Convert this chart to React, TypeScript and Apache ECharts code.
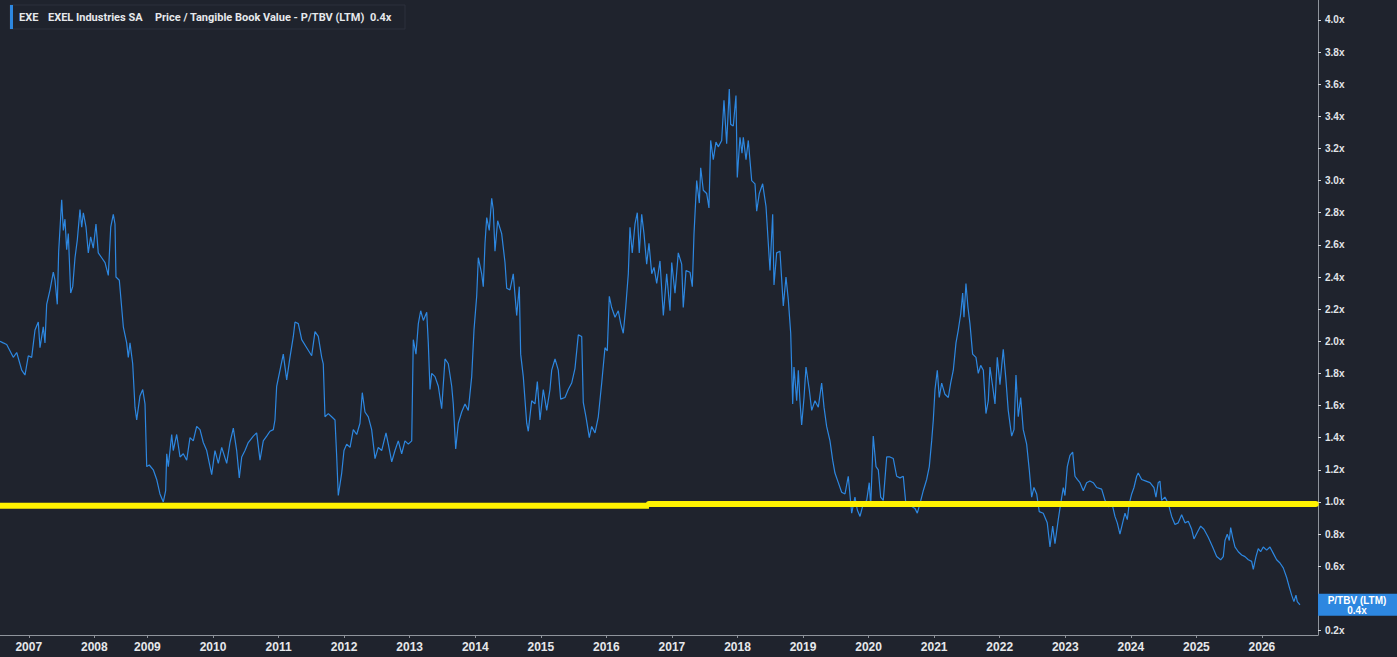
import React, { useEffect, useRef } from "react";
import * as echarts from "echarts";

// P/TBV (LTM) readings, [fractional year, multiple]
const ptbv2006to2011: [number, number][] = [
  [2006.751, 2.0], [2006.801, 1.99], [2006.853, 1.98], [2006.954, 1.9], [2007.006, 1.93], [2007.082, 1.82],
  [2007.132, 1.79], [2007.183, 1.91], [2007.234, 1.9], [2007.285, 2.07], [2007.335, 2.12], [2007.361, 1.96],
  [2007.411, 2.09], [2007.437, 1.99], [2007.463, 2.23], [2007.514, 2.32], [2007.564, 2.43], [2007.59, 2.38],
  [2007.625, 2.23], [2007.646, 2.56], [2007.692, 2.88], [2007.717, 2.69], [2007.742, 2.76], [2007.768, 2.57],
  [2007.793, 2.67], [2007.829, 2.3], [2007.86, 2.34], [2007.895, 2.52], [2007.93, 2.63], [2007.971, 2.82],
  [2007.997, 2.71], [2008.022, 2.8], [2008.063, 2.71], [2008.098, 2.55], [2008.134, 2.65], [2008.174, 2.58],
  [2008.215, 2.73], [2008.25, 2.55], [2008.302, 2.52], [2008.353, 2.49], [2008.403, 2.41], [2008.44, 2.71],
  [2008.479, 2.79], [2008.505, 2.73], [2008.52, 2.4], [2008.571, 2.38], [2008.632, 2.09], [2008.683, 1.99],
  [2008.708, 1.9], [2008.734, 1.99], [2008.775, 1.86], [2008.81, 1.59], [2008.836, 1.51], [2008.886, 1.66],
  [2008.928, 1.7], [2008.963, 1.61], [2008.989, 1.22], [2009.028, 1.23], [2009.089, 1.2], [2009.141, 1.14],
  [2009.191, 1.05], [2009.242, 1.0], [2009.278, 1.07], [2009.294, 1.3], [2009.318, 1.22], [2009.37, 1.42],
  [2009.394, 1.32], [2009.446, 1.42], [2009.497, 1.28], [2009.547, 1.3], [2009.599, 1.26], [2009.649, 1.4],
  [2009.699, 1.38], [2009.751, 1.47], [2009.802, 1.45], [2009.852, 1.37], [2009.904, 1.32], [2009.98, 1.17],
  [2010.03, 1.32], [2010.081, 1.24], [2010.133, 1.34], [2010.209, 1.24], [2010.259, 1.37], [2010.31, 1.46],
  [2010.361, 1.32], [2010.401, 1.15], [2010.438, 1.28], [2010.488, 1.32], [2010.538, 1.37], [2010.615, 1.41],
  [2010.666, 1.43], [2010.717, 1.26], [2010.767, 1.38], [2010.819, 1.41], [2010.869, 1.44], [2010.92, 1.45],
  [2010.945, 1.51], [2010.971, 1.72], [2011.022, 1.82], [2011.072, 1.92], [2011.124, 1.76], [2011.174, 1.9],
  [2011.225, 2.03], [2011.251, 2.12], [2011.301, 2.11], [2011.353, 2.01], [2011.429, 1.96], [2011.505, 1.91],
  [2011.556, 2.06], [2011.606, 2.03], [2011.658, 1.9], [2011.682, 1.86], [2011.708, 1.53], [2011.759, 1.55],
  [2011.81, 1.53], [2011.861, 1.51], [2011.887, 1.28], [2011.911, 1.04],
];

const ptbv2012to2016: [number, number][] = [
  [2011.963, 1.18], [2011.998, 1.32], [2012.039, 1.36], [2012.09, 1.34], [2012.14, 1.45], [2012.192, 1.42],
  [2012.242, 1.49], [2012.277, 1.68], [2012.318, 1.56], [2012.369, 1.53], [2012.42, 1.45], [2012.471, 1.27],
  [2012.521, 1.34], [2012.573, 1.32], [2012.639, 1.43], [2012.674, 1.36], [2012.726, 1.25], [2012.776, 1.32],
  [2012.826, 1.38], [2012.878, 1.3], [2012.928, 1.38], [2012.979, 1.36], [2013.031, 1.38], [2013.055, 2.01],
  [2013.096, 1.92], [2013.132, 2.11], [2013.168, 2.19], [2013.208, 2.13], [2013.26, 2.18], [2013.284, 1.99],
  [2013.31, 1.7], [2013.336, 1.8], [2013.386, 1.78], [2013.437, 1.72], [2013.488, 1.58], [2013.539, 1.89],
  [2013.589, 1.86], [2013.641, 1.72], [2013.665, 1.61], [2013.702, 1.33], [2013.742, 1.49], [2013.793, 1.56],
  [2013.844, 1.61], [2013.894, 1.57], [2013.946, 1.78], [2013.981, 2.07], [2014.022, 2.28], [2014.047, 2.52],
  [2014.098, 2.42], [2014.123, 2.34], [2014.149, 2.61], [2014.175, 2.77], [2014.214, 2.69], [2014.251, 2.89],
  [2014.275, 2.82], [2014.301, 2.56], [2014.342, 2.75], [2014.403, 2.67], [2014.454, 2.49], [2014.48, 2.33],
  [2014.53, 2.32], [2014.58, 2.42], [2014.632, 2.16], [2014.672, 2.34], [2014.693, 1.92], [2014.733, 1.78],
  [2014.785, 1.49], [2014.809, 1.44], [2014.861, 1.63], [2014.911, 1.61], [2014.947, 1.75], [2014.988, 1.51],
  [2015.038, 1.7], [2015.09, 1.57], [2015.14, 1.7], [2015.166, 1.82], [2015.217, 1.89], [2015.267, 1.82],
  [2015.303, 1.64], [2015.369, 1.65], [2015.419, 1.7], [2015.471, 1.74], [2015.521, 1.83], [2015.572, 2.04],
  [2015.624, 2.03], [2015.648, 1.62], [2015.689, 1.53], [2015.74, 1.4], [2015.776, 1.47], [2015.827, 1.43],
  [2015.877, 1.53], [2015.929, 1.74], [2015.979, 1.96], [2016.014, 1.94], [2016.045, 2.28], [2016.081, 2.21],
  [2016.132, 2.15], [2016.182, 2.19], [2016.219, 2.11], [2016.258, 2.05], [2016.295, 2.21], [2016.335, 2.42],
  [2016.36, 2.71], [2016.395, 2.55], [2016.437, 2.73], [2016.472, 2.8], [2016.502, 2.55], [2016.539, 2.79],
  [2016.574, 2.67], [2016.615, 2.48], [2016.65, 2.61], [2016.692, 2.42], [2016.727, 2.46], [2016.768, 2.36],
  [2016.818, 2.5],
];

const ptbv2017to2021: [number, number][] = [
  [2016.869, 2.16], [2016.92, 2.42], [2016.971, 2.19], [2016.997, 2.49], [2017.047, 2.3], [2017.097, 2.55],
  [2017.149, 2.48], [2017.173, 2.21], [2017.215, 2.44], [2017.276, 2.43], [2017.311, 2.34], [2017.337, 2.67],
  [2017.378, 3.0], [2017.418, 2.86], [2017.439, 3.08], [2017.479, 2.94], [2017.53, 2.92], [2017.565, 2.83],
  [2017.591, 3.25], [2017.631, 3.13], [2017.672, 3.24], [2017.707, 3.21], [2017.759, 3.25], [2017.794, 3.5],
  [2017.835, 3.23], [2017.875, 3.57], [2017.896, 3.35], [2017.936, 3.34], [2017.977, 3.53], [2017.997, 3.02],
  [2018.038, 3.27], [2018.069, 3.17], [2018.089, 3.27], [2018.13, 3.13], [2018.165, 3.25], [2018.217, 3.0],
  [2018.267, 2.98], [2018.293, 2.81], [2018.333, 2.92], [2018.384, 2.98], [2018.435, 2.84], [2018.47, 2.61],
  [2018.496, 2.44], [2018.537, 2.79], [2018.557, 2.35], [2018.598, 2.55], [2018.648, 2.56], [2018.699, 2.22],
  [2018.74, 2.4], [2018.775, 2.26], [2018.812, 2.05], [2018.842, 1.61], [2018.862, 1.84], [2018.903, 1.63],
  [2018.928, 1.82], [2018.953, 1.63], [2018.979, 1.48], [2019.015, 1.65], [2019.045, 1.84], [2019.095, 1.7],
  [2019.132, 1.57], [2019.182, 1.63], [2019.233, 1.59], [2019.284, 1.74], [2019.32, 1.59], [2019.36, 1.47],
  [2019.411, 1.38], [2019.452, 1.26], [2019.487, 1.18], [2019.538, 1.12], [2019.589, 1.06], [2019.64, 1.05],
  [2019.69, 1.16], [2019.742, 0.93], [2019.792, 1.03], [2019.828, 0.95], [2019.869, 0.91], [2019.919, 0.99],
  [2019.971, 1.01], [2020.01, 1.12], [2020.032, 0.97], [2020.071, 1.41], [2020.113, 1.22], [2020.148, 1.2],
  [2020.184, 1.03], [2020.224, 1.01], [2020.276, 1.28], [2020.326, 1.28], [2020.377, 1.27], [2020.428, 1.16],
  [2020.479, 1.15], [2020.529, 1.16], [2020.57, 0.98], [2020.631, 0.98], [2020.707, 0.96], [2020.743, 0.93],
  [2020.784, 0.99], [2020.834, 1.07], [2020.886, 1.14], [2020.926, 1.22], [2020.962, 1.38], [2020.987, 1.51],
  [2021.013, 1.7], [2021.048, 1.82], [2021.078, 1.65], [2021.115, 1.74], [2021.165, 1.67], [2021.216, 1.65],
  [2021.252, 1.74], [2021.292, 1.82], [2021.333, 1.99], [2021.368, 2.07], [2021.405, 2.17], [2021.435, 2.3],
  [2021.455, 2.15], [2021.485, 2.36], [2021.516, 2.21], [2021.546, 2.11], [2021.587, 1.92], [2021.638, 1.9],
  [2021.673, 1.8], [2021.71, 1.85], [2021.75, 1.82], [2021.79, 1.55], [2021.826, 1.63], [2021.851, 1.84],
  [2021.892, 1.72], [2021.928, 1.61], [2021.963, 1.9], [2022.004, 1.73],
];

const ptbv2022to2026: [number, number][] = [
  [2022.054, 1.95], [2022.095, 1.76], [2022.13, 1.57], [2022.182, 1.41], [2022.218, 1.45], [2022.248, 1.79],
  [2022.283, 1.53], [2022.32, 1.65], [2022.359, 1.45], [2022.411, 1.36], [2022.451, 1.2], [2022.487, 1.03],
  [2022.522, 1.09], [2022.564, 1.05], [2022.603, 0.94], [2022.664, 0.93], [2022.725, 0.87], [2022.767, 0.72],
  [2022.808, 0.85], [2022.843, 0.74], [2022.893, 0.89], [2022.93, 0.99], [2022.97, 1.09], [2022.995, 1.04],
  [2023.031, 1.22], [2023.072, 1.29], [2023.113, 1.31], [2023.148, 1.16], [2023.183, 1.14], [2023.224, 1.12],
  [2023.275, 1.07], [2023.326, 1.12], [2023.376, 1.13], [2023.427, 1.12], [2023.479, 1.09], [2023.555, 1.08],
  [2023.606, 1.01], [2023.656, 0.97], [2023.708, 1.0], [2023.758, 0.91], [2023.793, 0.87], [2023.834, 0.8],
  [2023.875, 0.87], [2023.911, 0.93], [2023.946, 0.89], [2023.976, 0.99], [2024.013, 1.05], [2024.048, 1.09],
  [2024.089, 1.16], [2024.113, 1.18], [2024.165, 1.14], [2024.231, 1.13], [2024.292, 1.12], [2024.352, 1.09],
  [2024.383, 1.03], [2024.418, 1.12], [2024.444, 1.13], [2024.47, 1.01], [2024.52, 1.03], [2024.571, 0.99],
  [2024.623, 0.91], [2024.673, 0.86], [2024.723, 0.87], [2024.775, 0.92], [2024.826, 0.87], [2024.876, 0.88],
  [2024.928, 0.83], [2024.963, 0.77], [2025.013, 0.81], [2025.065, 0.85], [2025.115, 0.83], [2025.181, 0.78],
  [2025.248, 0.72], [2025.309, 0.66], [2025.37, 0.64], [2025.41, 0.66], [2025.436, 0.76], [2025.471, 0.8],
  [2025.502, 0.76], [2025.523, 0.84], [2025.553, 0.78], [2025.588, 0.72], [2025.639, 0.69], [2025.691, 0.67],
  [2025.741, 0.66], [2025.792, 0.64], [2025.843, 0.63], [2025.868, 0.58], [2025.909, 0.66], [2025.944, 0.71],
  [2025.98, 0.69], [2026.02, 0.72], [2026.072, 0.7], [2026.122, 0.72], [2026.173, 0.68], [2026.224, 0.64],
  [2026.275, 0.62], [2026.325, 0.59], [2026.377, 0.53], [2026.417, 0.47], [2026.453, 0.42], [2026.488, 0.38],
  [2026.519, 0.42], [2026.539, 0.38], [2026.58, 0.36],
];

// Yellow reference line (drawn by hand on the original, two segments)
const referenceLineLeft: [number, number][] = [[2006.751, 0.977], [2016.65, 0.977]];
const referenceLineRight: [number, number][] = [[2016.65, 0.987], [2026.82, 0.987]];

const yTickValues = [0.2, 0.4, 0.6, 0.8, 1.0, 1.2, 1.4, 1.6, 1.8, 2.0, 2.2, 2.4, 2.6, 2.8, 3.0, 3.2, 3.4, 3.6, 3.8, 4.0];
// 0.4x is hidden behind the last-value badge in the original
const yLabelValues = [0.2, 0.6, 0.8, 1.0, 1.2, 1.4, 1.6, 1.8, 2.0, 2.2, 2.4, 2.6, 2.8, 3.0, 3.2, 3.4, 3.6, 3.8, 4.0];
const xTickYears = [2007.19, 2008.19, 2009, 2010, 2011, 2012, 2013, 2014, 2015, 2016, 2017, 2018, 2019, 2020, 2021, 2022, 2023, 2024, 2025, 2026];

const tickerCode = "EXE";
const companyName = "EXEL Industries SA";
const metricName = "Price / Tangible Book Value - P/TBV (LTM)";
const metricShort = "P/TBV (LTM)";

const BG = "#1f232d";
const BLUE = "#2d87e0";
const FONT = "'Liberation Sans', Arial, sans-serif";
const LEGEND_FONT = "Roboto, 'Liberation Sans', Arial, sans-serif";

export default function App() {
  const ref = useRef<HTMLDivElement>(null);

  useEffect(() => {
    if (!ref.current) return;
    const chart = echarts.init(ref.current, null, { renderer: "svg" });
    const series = [...ptbv2006to2011, ...ptbv2012to2016, ...ptbv2017to2021, ...ptbv2022to2026];
    const last = series[series.length - 1][1];
    const lastLabel = last.toFixed(1) + "x";

    chart.setOption({
      animation: false,
      backgroundColor: BG,
      grid: { left: 0, right: 79, top: 0, bottom: 22, outerBoundsMode: "none", containLabel: false },
      xAxis: {
        type: "value",
        min: 2006.751,
        max: 2026.855,
        axisLine: { show: true, onZero: false, lineStyle: { color: "#8f949c", width: 1 } },
        axisTick: { show: true, length: 3, customValues: xTickYears, lineStyle: { color: "#8f949c" } },
        axisLabel: {
          customValues: xTickYears,
          formatter: (v: number) => String(Math.floor(v + 0.01)),
          color: "#e6e8eb",
          fontSize: 12,
          fontWeight: "bold",
          fontFamily: FONT,
          margin: 6,
        },
        splitLine: { show: false },
      },
      yAxis: {
        type: "value",
        position: "right",
        min: 0.172,
        max: 4.124,
        axisLine: { show: true, lineStyle: { color: "#8f949c", width: 1 } },
        axisTick: { show: true, length: 3, customValues: yTickValues, lineStyle: { color: "#d5d8dd" } },
        axisLabel: {
          customValues: yLabelValues,
          formatter: (v: number) => v.toFixed(1) + "x",
          color: "#e1e4e8",
          fontSize: 10,
          fontWeight: "bold",
          fontFamily: FONT,
          margin: 7,
        },
        splitLine: { show: false },
      },
      series: [
        {
          type: "line",
          data: series,
          showSymbol: false,
          symbol: "none",
          lineStyle: { color: BLUE, width: 1.2 },
          z: 2,
        },
        {
          type: "line",
          data: referenceLineLeft,
          showSymbol: false,
          symbol: "none",
          lineStyle: { color: "#fff200", width: 6, cap: "butt" },
          z: 3,
        },
        {
          type: "line",
          data: referenceLineRight,
          showSymbol: false,
          symbol: "none",
          lineStyle: { color: "#fff200", width: 6, cap: "round" },
          z: 3,
        },
      ],
    });

    const yPix = chart.convertToPixel({ yAxisIndex: 0 }, last) as number;

    chart.setOption({
      graphic: [
        { type: "rect", z: 100, shape: { x: 10, y: 5, width: 395, height: 24 }, style: { fill: BG, stroke: "#2c313c", lineWidth: 1 } },
        { type: "rect", z: 101, shape: { x: 10, y: 5, width: 3, height: 24 }, style: { fill: BLUE } },
        { type: "text", z: 101, x: 19, y: 17, style: { text: tickerCode, fill: "#e6e8eb", font: `bold 11px ${LEGEND_FONT}`, verticalAlign: "middle" } },
        { type: "text", z: 101, x: 48, y: 17, style: { text: companyName, fill: "#e6e8eb", font: `bold 11px ${LEGEND_FONT}`, verticalAlign: "middle" } },
        { type: "text", z: 101, x: 155, y: 17, style: { text: metricName, fill: "#e6e8eb", font: `bold 11px ${LEGEND_FONT}`, verticalAlign: "middle" } },
        { type: "text", z: 101, x: 370, y: 17, style: { text: lastLabel, fill: "#e6e8eb", font: `bold 11px ${LEGEND_FONT}`, verticalAlign: "middle" } },
        { type: "rect", z: 100, shape: { x: 1318, y: yPix - 11, width: 79, height: 22 }, style: { fill: BLUE } },
        {
          type: "text",
          z: 101,
          x: 1357,
          y: yPix + 0.5,
          style: {
            text: metricShort + "\n" + lastLabel,
            fill: "#ffffff",
            font: `bold 10px ${FONT}`,
            lineHeight: 10.5,
            align: "center",
            verticalAlign: "middle",
          },
        },
      ],
    });

    return () => chart.dispose();
  }, []);

  return <div ref={ref} style={{ position: "fixed", left: 0, top: 0, width: 1397, height: 657 }} />;
}
